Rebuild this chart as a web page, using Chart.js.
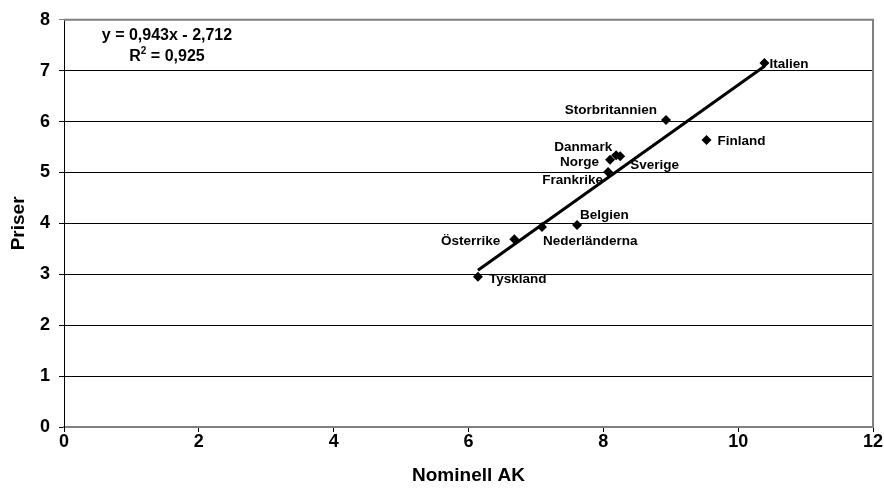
<!DOCTYPE html>
<html><head><meta charset="utf-8">
<script src="https://cdn.jsdelivr.net/npm/chart.js@4/dist/chart.umd.min.js"></script>
<style>html,body{margin:0;padding:0;background:#fff}#wrap{width:884px;height:492px;position:relative}</style>
</head><body><div id="wrap"><canvas id="c"></canvas></div>
<script>
// ---- data ----
const countries = ['Italien','Storbritannien','Finland','Danmark','Norge','Sverige','Frankrike','Belgien','Nederländerna','Österrike','Tyskland'];
const nominellAK = [10.39, 8.93, 9.53, 8.19, 8.10, 8.25, 8.07, 7.61, 7.09, 6.68, 6.14];
const priser     = [7.15, 6.03, 5.64, 5.34, 5.25, 5.32, 5.01, 3.97, 3.93, 3.69, 2.95];
const xTickValues = [0, 2, 4, 6, 8, 10, 12];
const yTickValues = [0, 1, 2, 3, 4, 5, 6, 7, 8];
const trendSlope = 0.943;
const trendIntercept = -2.712;
const equationText = 'y = 0,943x - 2,712';
const r2Text = ' = 0,925';
const xTitle = 'Nominell AK';
const yTitle = 'Priser';

// label placement (pixel offsets from the marker, text alignment)
const labelPlacement = [
  {dx: 5,  dy: 1,   align: 'left'},
  {dx: -9, dy: -10, align: 'right'},
  {dx: 11, dy: 1,   align: 'left'},
  {dx: -4, dy: -8,  align: 'right'},
  {dx: -11,dy: 3,   align: 'right'},
  {dx: 10, dy: 9,   align: 'left'},
  {dx: -5, dy: 8,   align: 'right'},
  {dx: 3,  dy: -10, align: 'left'},
  {dx: 1,  dy: 14,  align: 'left'},
  {dx: -14,dy: 2,   align: 'right'},
  {dx: 11, dy: 2,   align: 'left'}
];

const FONT = '"Liberation Sans", Arial, sans-serif';
const points = nominellAK.map((x, i) => ({x: x, y: priser[i]}));
const xMin = Math.min(...nominellAK), xMax = Math.max(...nominellAK);
const trend = [xMin, xMax].map(x => ({x: x, y: trendSlope * x + trendIntercept}));

const overlay = {
  id: 'overlay',
  afterDatasetsDraw(chart) {
    const ctx = chart.ctx;
    const meta = chart.getDatasetMeta(1);
    const area = chart.chartArea;
    ctx.save();
    // gray frame top / right
    ctx.strokeStyle = '#808080';
    ctx.lineWidth = 2;
    ctx.beginPath();
    ctx.moveTo(area.left, area.top);
    ctx.lineTo(area.right, area.top);
    ctx.lineTo(area.right, area.bottom);
    ctx.stroke();
    // point labels
    ctx.fillStyle = '#000';
    ctx.font = 'bold 13.5px ' + FONT;
    ctx.textBaseline = 'middle';
    meta.data.forEach((el, i) => {
      const p = labelPlacement[i];
      ctx.textAlign = p.align;
      ctx.fillText(countries[i], el.x + p.dx, el.y + p.dy);
    });
    // equation
    const cx = area.left + 103;
    ctx.font = 'bold 16px ' + FONT;
    ctx.textAlign = 'center';
    ctx.fillText(equationText, cx, area.top + 16);
    const wR = ctx.measureText('R').width;
    const wRest = ctx.measureText(r2Text).width;
    ctx.font = 'bold 10px ' + FONT;
    const w2 = ctx.measureText('2').width;
    const total = wR + w2 + wRest;
    let sx = cx - total / 2;
    ctx.textAlign = 'left';
    ctx.font = 'bold 16px ' + FONT;
    ctx.fillText('R', sx, area.top + 37);
    ctx.font = 'bold 10px ' + FONT;
    ctx.fillText('2', sx + wR, area.top + 31);
    ctx.font = 'bold 16px ' + FONT;
    ctx.fillText(r2Text, sx + wR + w2, area.top + 37);
    ctx.restore();
  }
};

new Chart(document.getElementById('c'), {
  type: 'scatter',
  data: {
    datasets: [
      {
        label: 'Trend',
        data: trend,
        showLine: true,
        borderColor: '#000',
        borderWidth: 3,
        pointRadius: 0,
        fill: false
      },
      {
        label: 'Länder',
        data: points,
        pointStyle: 'rectRot',
        pointRadius: 5,
        pointHoverRadius: 5,
        backgroundColor: '#000',
        borderColor: '#000',
        borderWidth: 0
      }
    ]
  },
  options: {
    responsive: true,
    maintainAspectRatio: false,
    animation: false,
    events: [],
    layout: {padding: {top: 19, right: 11, left: 0, bottom: 0}},
    plugins: {legend: {display: false}, tooltip: {enabled: false}},
    scales: {
      x: {
        type: 'linear', min: 0, max: 12,
        afterBuildTicks: s => { s.ticks = xTickValues.map(v => ({value: v})); },
        afterFit: s => { s.height = 65; },
        ticks: {color: '#000', font: {family: FONT, size: 18, weight: 'bold'}, padding: -1, maxRotation: 0},
        grid: {drawOnChartArea: false, tickLength: 5, color: '#000'},
        border: {color: '#808080', width: 2},
        title: {display: true, text: xTitle, color: '#000', font: {family: FONT, size: 19, weight: 'bold'}, padding: {top: 0, bottom: 5}}
      },
      y: {
        type: 'linear', min: 0, max: 8,
        afterBuildTicks: s => { s.ticks = yTickValues.map(v => ({value: v})); },
        afterFit: s => { s.width = 64; },
        ticks: {color: '#000', font: {family: FONT, size: 18, weight: 'bold'}, padding: 9},
        grid: {color: ctx => (ctx.tick && ctx.tick.value === 8) ? '#808080' : '#000', tickLength: 5, lineWidth: 1},
        border: {color: '#000', width: 1},
        title: {display: true, text: yTitle, color: '#000', font: {family: FONT, size: 19, weight: 'bold'}, padding: {top: 7, bottom: 0}}
      }
    }
  },
  plugins: [overlay]
});
</script>
</body></html>
